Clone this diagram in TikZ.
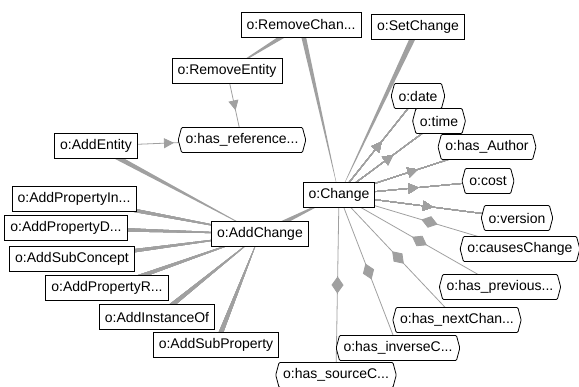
\documentclass[tikz,border=0pt]{standalone}
\usepackage{fontspec}
\setmainfont{Liberation Sans}
\usetikzlibrary{shapes.symbols,arrows.meta,decorations.markings,calc}
\definecolor{edgegray}{RGB}{160,160,160}
\pgfdeclarelayer{background}
\pgfsetlayers{background,main}
% wedge shaped subclass edge, thick at the first node
\newcommand{\taper}[3]{\fill[edgegray] ($(#1.center)!#3!90:(#2.center)$) -- ($(#1.center)!#3!-90:(#2.center)$) -- (#2.center) -- cycle;}

\begin{document}
\begin{tikzpicture}[x=1pt,y=-1pt]
    \tikzstyle{cls}=[rectangle,draw,fill=white,inner xsep=5.5pt,minimum height=25pt,line width=0.8pt,font=\fontsize{14}{16}\selectfont]
    \tikzstyle{prop}=[signal,signal to=west and east,signal pointer angle=150,draw,fill=white,inner xsep=4pt,minimum height=25pt,line width=0.8pt,rounded corners=1pt,font=\fontsize{14}{16}\selectfont]
    \tikzstyle{rel}=[edgegray,line width=0.8pt]
    \tikzstyle{hasarrow}=[rel,postaction={decorate},decoration={markings,mark=at position 0.5 with {\arrow[xshift=5pt]{Triangle[length=10pt,width=10pt]}}}]
    \tikzstyle{hasdiamond}=[rel,postaction={decorate},decoration={markings,mark=at position 0.5 with {\arrow[xshift=8.5pt]{Diamond[length=17pt,width=12pt]}}}]
    \useasboundingbox (0,0) rectangle (579,387);
    % classes
    \node[cls] (rmchange) at (301,25) {o:RemoveChan...};
    \node[cls] (setchange) at (418,27) {o:SetChange};
    \node[cls] (rmentity) at (227,71) {o:RemoveEntity};
    \node[cls] (addentity) at (96,146) {o:AddEntity};
    \node[cls] (change) at (339,195) {o:Change};
    \node[cls] (addchange) at (260,234) {o:AddChange};
    \node[cls] (addpropin) at (74,199) {o:AddPropertyIn...};
    \node[cls] (addpropd) at (66,228) {o:AddPropertyD...};
    \node[cls] (addsubcon) at (72,259) {o:AddSubConcept};
    \node[cls] (addpropr) at (107,288) {o:AddPropertyR...};
    \node[cls] (addinst) at (157,317) {o:AddInstanceOf};
    \node[cls] (addsubprop) at (216,345) {o:AddSubProperty};
    % properties
    \node[prop] (hasref) at (242,140) {o:has\_reference...};
    \node[prop] (date) at (418,96) {o:date};
    \node[prop] (time) at (439,121) {o:time};
    \node[prop] (author) at (487,147) {o:has\_Author};
    \node[prop] (cost) at (488,181) {o:cost};
    \node[prop] (version) at (517,218) {o:version};
    \node[prop] (causes) at (520,249) {o:causesChange};
    \node[prop] (prev) at (500,287) {o:has\_previous...};
    \node[prop] (next) at (457,320) {o:has\_nextChan...};
    \node[prop] (inverse) at (398,348) {o:has\_inverseC...};
    \node[prop] (source) at (336,375) {o:has\_sourceC...};
    \begin{pgfonlayer}{background}
      \foreach \a/\b/\w in {rmchange/rmentity/2.75pt,rmchange/change/2.5pt,setchange/change/3pt,addentity/addchange/2.75pt,addchange/change/3pt}
        \taper{\a}{\b}{\w}
      \foreach \a in {addpropin,addpropd,addsubcon,addpropr,addinst,addsubprop}
        \taper{\a}{addchange}{2.5pt}
      \foreach \p in {date,time,author,cost,version}
        \draw[hasarrow] (change.center) -- (\p.center);
      \foreach \p in {causes,prev,next,inverse,source}
        \draw[hasdiamond] (change.center) -- (\p.center);
      \draw[hasarrow] (rmentity.center) -- (hasref.center);
      \draw[hasarrow] (addentity.center) -- (hasref.center);
    \end{pgfonlayer}
\end{tikzpicture}
\end{document}
